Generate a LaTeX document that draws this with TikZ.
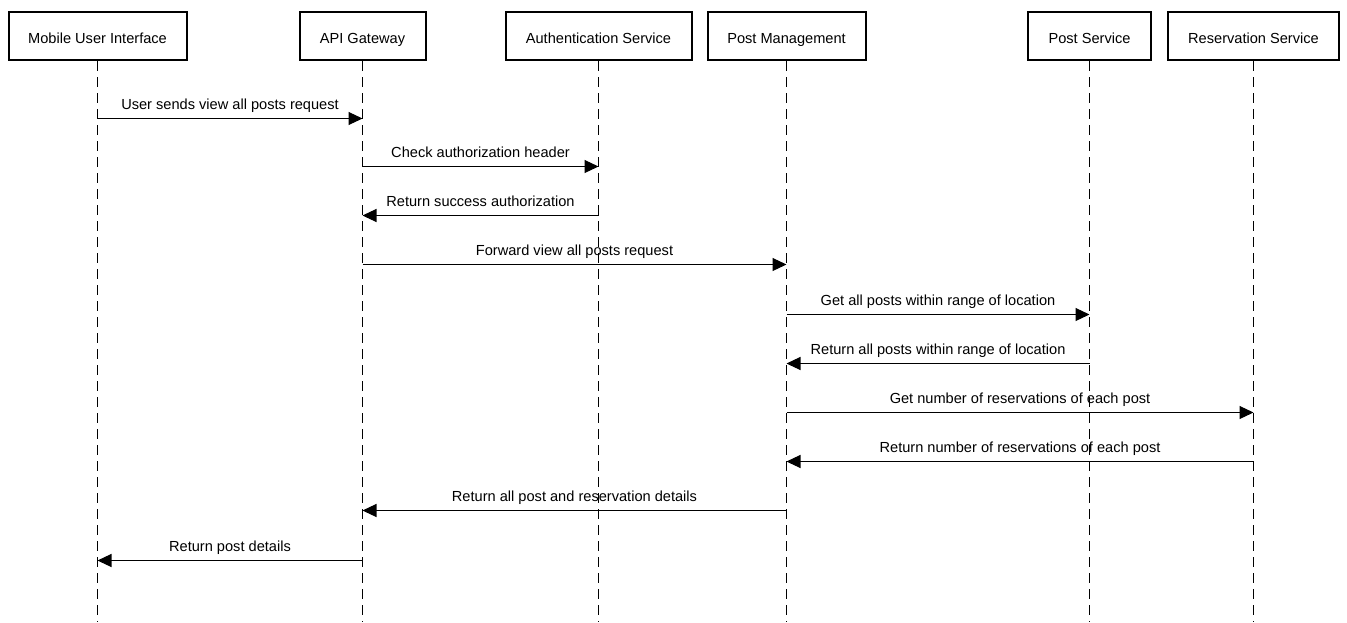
\documentclass[tikz,border=0pt]{standalone}
\usepackage{fontspec}
\setmainfont{Liberation Sans}
\usetikzlibrary{arrows.meta}
\begin{document}
\begin{tikzpicture}[x=1pt,y=-1pt,
  font=\fontsize{14.6}{17}\selectfont,
  every node/.style={text height=10.5pt,text depth=3pt},
  actor/.style={draw,line width=2pt,minimum height=48pt,inner sep=0pt,
    text height=14pt,text depth=0pt},
  lifeline/.style={line width=1.1pt,dash pattern=on 10pt off 6pt},
  msg/.style={line width=1.1pt,-{Triangle[length=14pt,width=13pt]}},
  lbl/.style={above=5.5pt,inner sep=0pt}]
\useasboundingbox (0,0) rectangle (1347,622);

% participants
\node[actor,minimum width=178pt] (mui)  at (97.5,36)  {Mobile User Interface};
\node[actor,minimum width=126pt] (api)  at (362.5,36) {API Gateway};
\node[actor,minimum width=186pt] (auth) at (598.5,36) {Authentication Service};
\node[actor,minimum width=158pt] (pm)   at (786.5,36) {Post Management};
\node[actor,minimum width=123pt] (ps)   at (1089.5,36){Post Service};
\node[actor,minimum width=171pt] (rs)   at (1253.5,36){Reservation Service};

% lifelines
\coordinate (bottom) at (0,622);
\foreach \p in {mui,api,auth,pm,ps,rs}
  \draw[lifeline] (\p.south) -- (\p |- bottom);

% message rows
\coordinate (r1)  at (0,118.5);
\coordinate (r2)  at (0,166.5);
\coordinate (r3)  at (0,215.5);
\coordinate (r4)  at (0,264.5);
\coordinate (r5)  at (0,314.5);
\coordinate (r6)  at (0,363.5);
\coordinate (r7)  at (0,412.5);
\coordinate (r8)  at (0,461.5);
\coordinate (r9)  at (0,510.5);
\coordinate (r10) at (0,560.5);

\draw[msg] (mui |- r1) -- node[lbl] {User sends view all posts request} (api |- r1);
\draw[msg] (api |- r2) -- node[lbl] {Check authorization header} (auth |- r2);
\draw[msg] (auth |- r3) -- node[lbl] {Return success authorization} (api |- r3);
\draw[msg] (api |- r4) -- node[lbl] {Forward view all posts request} (pm |- r4);
\draw[msg] (pm |- r5) -- node[lbl] {Get all posts within range of location} (ps |- r5);
\draw[msg] (ps |- r6) -- node[lbl] {Return all posts within range of location} (pm |- r6);
\draw[msg] (pm |- r7) -- node[lbl] {Get number of reservations of each post} (rs |- r7);
\draw[msg] (rs |- r8) -- node[lbl] {Return number of reservations of each post} (pm |- r8);
\draw[msg] (pm |- r9) -- node[lbl] {Return all post and reservation details} (api |- r9);
\draw[msg] (api |- r10) -- node[lbl] {Return post details} (mui |- r10);
\end{tikzpicture}
\end{document}
